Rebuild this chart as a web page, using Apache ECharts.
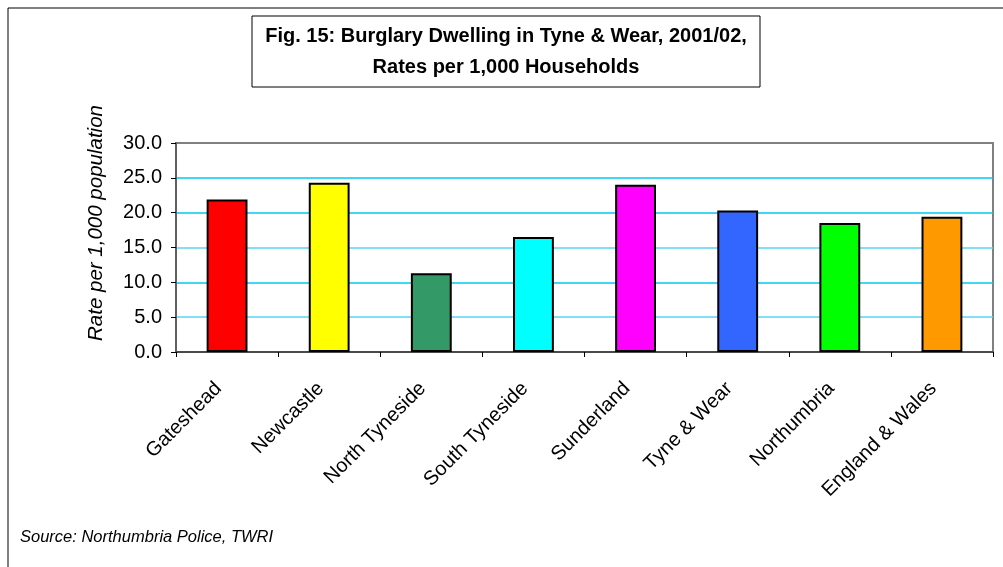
<!DOCTYPE html>
<html>
<head>
<meta charset="utf-8">
<title>Burglary Dwelling in Tyne & Wear</title>
<script src="https://cdn.jsdelivr.net/npm/echarts@6/dist/echarts.min.js"></script>
<style>
  html, body { margin: 0; padding: 0; background: #fff; }
  #chart { width: 1003px; height: 567px; }
</style>
</head>
<body>
<div id="chart"></div>
<script>
// 数据
const categories = ['Gateshead', 'Newcastle', 'North Tyneside', 'South Tyneside',
  'Sunderland', 'Tyne & Wear', 'Northumbria', 'England & Wales']
const rates = [21.9, 24.3, 11.3, 16.5, 24.0, 20.3, 18.5, 19.4]
const barColors = ['#FF0000', '#FFFF00', '#339966', '#00FFFF',
  '#FF00FF', '#3366FF', '#00FF00', '#FF9900']
const titleLines = ['Fig. 15: Burglary Dwelling in Tyne & Wear, 2001/02,', 'Rates per 1,000 Households']
const yAxisTitle = 'Rate per 1,000 population'
const sourceNote = 'Source: Northumbria Police, TWRI'

const font = 'Arial, "Liberation Sans", sans-serif'
const chart = echarts.init(document.getElementById('chart'))

chart.setOption({
  animation: false,
  backgroundColor: '#fff',
  graphic: [
    /* 外框 */
    {
      type: 'rect',
      shape: { x: 8, y: 8, width: 1010, height: 580 },
      style: { fill: 'none', stroke: '#000', lineWidth: 1 },
      silent: true
    },
    /* 标题框 */
    {
      type: 'rect',
      shape: { x: 252, y: 16, width: 508, height: 71 },
      style: { fill: '#fff', stroke: '#000', lineWidth: 1 },
      silent: true
    },
    {
      type: 'text',
      x: 506,
      y: 52,
      style: {
        text: titleLines.join('\n'),
        fontFamily: font,
        fontSize: 20,
        fontWeight: 'bold',
        lineHeight: 31,
        fill: '#000',
        align: 'center',
        verticalAlign: 'middle'
      }
    },
    /* y轴标题 */
    {
      type: 'text',
      x: 96,
      y: 223,
      rotation: Math.PI / 2,
      style: {
        text: yAxisTitle,
        fontFamily: font,
        fontSize: 20.5,
        fontStyle: 'italic',
        fill: '#000',
        align: 'center',
        verticalAlign: 'middle'
      }
    },
    /* 来源 */
    {
      type: 'text',
      x: 20,
      y: 537,
      style: {
        text: sourceNote,
        fontFamily: font,
        fontSize: 16.5,
        fontStyle: 'italic',
        fill: '#000',
        verticalAlign: 'middle'
      }
    }
  ],
  grid: {
    left: 176,
    right: 10,
    top: 143,
    bottom: 215,
    show: true,
    borderColor: '#808080',
    borderWidth: 2,
    backgroundColor: '#fff'
  },
  xAxis: {
    type: 'category',
    data: categories,
    axisLine: { lineStyle: { color: '#404040', width: 1.5 } },
    axisTick: { show: true, length: 5, lineStyle: { color: '#000' } },
    axisLabel: {
      rotate: 45,
      margin: 25,
      padding: [0, 12, 0, 0],
      interval: 0,
      fontFamily: font,
      fontSize: 20,
      color: '#000'
    }
  },
  yAxis: {
    type: 'value',
    min: 0,
    max: 30,
    interval: 5,
    axisLine: { show: true, lineStyle: { color: '#606060', width: 2 } },
    axisTick: { show: true, length: 5, lineStyle: { color: '#000' } },
    axisLabel: {
      margin: 14,
      fontFamily: font,
      fontSize: 20,
      color: '#000',
      formatter: v => v.toFixed(1)
    },
    splitLine: {
      show: true,
      lineStyle: {
        color: ['#606060', '#5BD3F5', '#00C8F0', '#5BD3F5', '#00C8F0', '#00C8F0', '#808080'],
        width: 1.5
      }
    }
  },
  series: [
    {
      type: 'bar',
      data: rates.map((v, i) => ({ value: v, itemStyle: { color: barColors[i] } })),
      barWidth: '40%',
      itemStyle: { borderColor: '#000', borderWidth: 2 }
    }
  ]
})
</script>
</body>
</html>
